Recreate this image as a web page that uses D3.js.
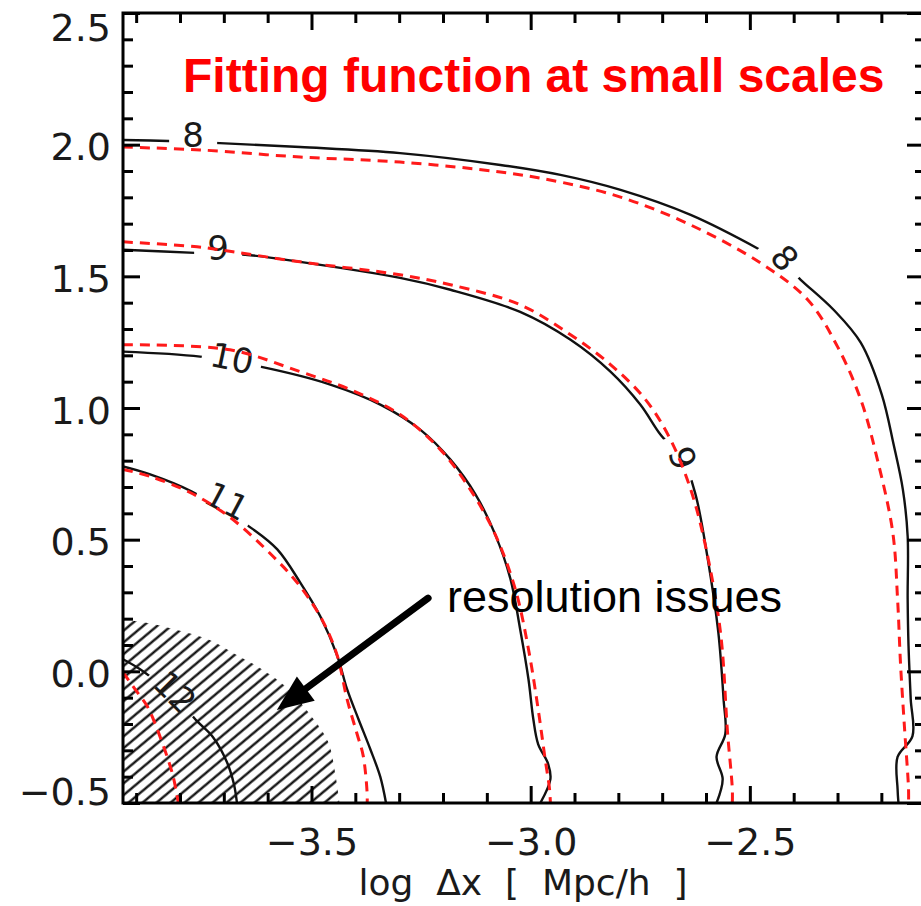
<!DOCTYPE html>
<html>
<head>
<meta charset="utf-8">
<script src="https://cdn.jsdelivr.net/npm/d3@7"></script>
<style>
  html, body { margin: 0; padding: 0; background: #fff; overflow: hidden; }
  svg { display: block; }
</style>
</head>
<body>
<svg id="chart" width="921" height="906"></svg>
<script>
// Contours of the measured field (solid) and of the fitting function (dashed),
// each as [log dx, log r] pairs.
const sim8 = [[-3.930,2.018],[-3.827,2.014],[-3.709,2.006],[-3.526,1.991],[-3.298,1.968],[-3.069,1.923],[-2.932,1.885],[-2.795,1.828],[-2.635,1.733],[-2.476,1.600],[-2.419,1.544],[-2.384,1.487],[-2.309,1.373],[-2.247,1.248],[-2.199,1.051],[-2.172,0.861],[-2.151,0.691],[-2.140,0.513],[-2.140,0.274],[-2.138,0.096],[-2.133,-0.105],[-2.129,-0.246],[-2.163,-0.325],[-2.163,-0.447],[-2.161,-0.500]];
const fit8 = [[-3.930,1.991],[-3.754,1.980],[-3.526,1.953],[-3.298,1.934],[-3.069,1.896],[-2.932,1.858],[-2.795,1.801],[-2.635,1.695],[-2.476,1.551],[-2.368,1.411],[-2.300,1.233],[-2.247,1.032],[-2.209,0.804],[-2.174,0.528],[-2.163,0.274],[-2.156,0.020],[-2.147,-0.219],[-2.138,-0.447],[-2.138,-0.500]];

const sim9 = [[-3.930,1.601],[-3.766,1.589],[-3.651,1.582],[-3.526,1.555],[-3.298,1.494],[-3.183,1.449],[-3.024,1.365],[-2.909,1.259],[-2.818,1.138],[-2.750,1.013],[-2.704,0.899],[-2.651,0.797],[-2.624,0.672],[-2.597,0.437],[-2.572,0.149],[-2.560,-0.105],[-2.556,-0.238],[-2.576,-0.325],[-2.562,-0.409],[-2.576,-0.500]];
const fit9 = [[-3.930,1.631],[-3.761,1.612],[-3.679,1.593],[-3.526,1.555],[-3.298,1.506],[-3.183,1.468],[-3.024,1.392],[-2.909,1.278],[-2.818,1.165],[-2.738,1.032],[-2.681,0.880],[-2.635,0.691],[-2.601,0.475],[-2.567,0.149],[-2.551,-0.230],[-2.540,-0.447],[-2.540,-0.500]];

const sim10 = [[-3.930,1.214],[-3.754,1.195],[-3.617,1.157],[-3.457,1.089],[-3.343,1.013],[-3.252,0.918],[-3.183,0.804],[-3.126,0.672],[-3.081,0.520],[-3.046,0.350],[-3.024,0.160],[-3.005,-0.030],[-2.994,-0.181],[-2.983,-0.276],[-2.960,-0.352],[-2.955,-0.409],[-2.978,-0.500]];
const fit10 = [[-3.930,1.240],[-3.686,1.221],[-3.526,1.138],[-3.412,1.070],[-3.298,0.975],[-3.206,0.842],[-3.138,0.691],[-3.081,0.520],[-3.035,0.312],[-3.005,0.084],[-2.983,-0.143],[-2.967,-0.333],[-2.957,-0.447],[-2.955,-0.500]];

const sim11 = [[-3.930,0.778],[-3.868,0.748],[-3.773,0.683],[-3.633,0.539],[-3.578,0.463],[-3.526,0.338],[-3.480,0.209],[-3.441,0.058],[-3.419,-0.067],[-3.393,-0.181],[-3.366,-0.295],[-3.343,-0.401],[-3.330,-0.500]];
const fit11 = [[-3.930,0.767],[-3.868,0.740],[-3.777,0.679],[-3.686,0.585],[-3.588,0.437],[-3.526,0.323],[-3.473,0.187],[-3.441,0.058],[-3.419,-0.105],[-3.396,-0.238],[-3.382,-0.321],[-3.373,-0.465],[-3.373,-0.500]];

const sim12 = [[-3.930,0.046],[-3.891,0.008],[-3.846,-0.049],[-3.800,-0.117],[-3.761,-0.189],[-3.725,-0.249],[-3.693,-0.344],[-3.677,-0.428],[-3.670,-0.500]];
const fit12 = [[-3.930,-0.003],[-3.903,-0.067],[-3.875,-0.132],[-3.846,-0.246],[-3.816,-0.397],[-3.804,-0.500]];

// Edge of the region where the grid is not resolved
const resolutionLimit = [[-3.930,0.198],[-3.862,0.180],[-3.800,0.154],[-3.731,0.118],[-3.679,0.070],[-3.617,0.012],[-3.556,-0.062],[-3.503,-0.165],[-3.462,-0.268],[-3.445,-0.397],[-3.436,-0.500]];

const levels = [8, 9, 10, 11, 12];
const simulated = [sim8, sim9, sim10, sim11, sim12];
const fitted = [fit8, fit9, fit10, fit11, fit12];

// Tick values
const xMajorTicks = [-3.5, -3.0, -2.5];
const yMajorTicks = [-0.5, 0.0, 0.5, 1.0, 1.5, 2.0, 2.5];

// Where the level numbers sit on the solid contours
const contourLabels = [
  { level: 8,  x: -3.770, y: 2.037, angle: 0 },
  { level: 9,  x: -3.713, y: 1.608, angle: 0 },
  { level: 10, x: -3.681, y: 1.190, angle: 12 },
  { level: 11, x: -3.693, y: 0.647, angle: 28 },
  { level: 12, x: -3.811, y: -0.078, angle: 45 },
  { level: 8,  x: -2.420, y: 1.570, angle: 50 },
  { level: 9,  x: -2.653, y: 0.810, angle: 70 }
];

const W = 921, H = 906;
const svg = d3.select("#chart");

const x = d3.scaleLinear().domain([-3.93, -2.105]).range([123, 923]);
const y = d3.scaleLinear().domain([-0.5, 2.5]).range([803, 13]);

const tickFont = "'DejaVu Sans', sans-serif";
const fmt = d3.format(".1f");

const defs = svg.append("defs");

defs.append("clipPath").attr("id", "plotArea")
  .append("rect")
  .attr("x", x.range()[0]).attr("y", y.range()[1])
  .attr("width", x.range()[1] - x.range()[0])
  .attr("height", y.range()[0] - y.range()[1]);

// Diagonal hatching for the unresolved region
const hatch = defs.append("pattern")
  .attr("id", "hatch")
  .attr("patternUnits", "userSpaceOnUse")
  .attr("width", 12).attr("height", 9)
  .attr("patternTransform", "rotate(-40)");
hatch.append("line")
  .attr("x1", -1).attr("x2", 13).attr("y1", 4.5).attr("y2", 4.5)
  .attr("stroke", "#000").attr("stroke-width", 2.2);

// Gaps cut out of the solid contours around the level numbers
const gapMask = defs.append("mask").attr("id", "labelGaps")
  .attr("maskUnits", "userSpaceOnUse")
  .attr("x", 0).attr("y", 0).attr("width", W).attr("height", H);
gapMask.append("rect").attr("width", W).attr("height", H).attr("fill", "#fff");
gapMask.selectAll("rect.gap")
  .data(contourLabels)
  .join("rect")
  .attr("class", "gap")
  .attr("x", d => String(d.level).length > 1 ? -30 : -24)
  .attr("y", -16)
  .attr("width", d => String(d.level).length > 1 ? 60 : 48)
  .attr("height", 32)
  .attr("fill", "#000")
  .attr("transform", d => `translate(${x(d.x)},${y(d.y)}) rotate(${d.angle})`);

const plot = svg.append("g").attr("clip-path", "url(#plotArea)");

// Hatched region
const edge = d3.line().x(d => x(d[0])).y(d => y(d[1])).curve(d3.curveCatmullRom.alpha(0.5));
const corner = [x.domain()[0], y.domain()[0]];
plot.append("path")
  .attr("d", edge(resolutionLimit) + `L${x(corner[0])},${y(corner[1])}Z`)
  .attr("fill", "url(#hatch)")
  .attr("stroke", "none");

const contourLine = d3.line()
  .x(d => x(d[0])).y(d => y(d[1]))
  .curve(d3.curveCatmullRom.alpha(0.5));

// Solid contours
plot.append("g").attr("mask", "url(#labelGaps)")
  .selectAll("path")
  .data(simulated)
  .join("path")
  .attr("d", contourLine)
  .attr("fill", "none")
  .attr("stroke", "#111")
  .attr("stroke-width", 2.4)
  .attr("stroke-linejoin", "round");

// Level numbers
plot.append("g").selectAll("text")
  .data(contourLabels)
  .join("text")
  .attr("transform", d => `translate(${x(d.x)},${y(d.y)}) rotate(${d.angle})`)
  .attr("text-anchor", "middle")
  .attr("dy", "0.36em")
  .attr("font-family", tickFont)
  .attr("font-size", 34)
  .attr("fill", "#1a1a1a")
  .text(d => d.level);

// Dashed fitting-function contours
plot.append("g")
  .selectAll("path")
  .data(fitted)
  .join("path")
  .attr("d", contourLine)
  .attr("fill", "none")
  .attr("stroke", "#ff1a1a")
  .attr("stroke-width", 3)
  .attr("stroke-dasharray", "10,7");

// Axes: ticks point inwards on all four sides
const xMinor = d3.range(-3.9, -2.15, 0.1).map(v => +v.toFixed(1)).filter(v => !xMajorTicks.includes(v));
const yMinor = d3.range(-0.4, 2.45, 0.1).map(v => +v.toFixed(1)).filter(v => !yMajorTicks.includes(v));

function styleAxis(g) {
  g.select(".domain").remove();
  g.selectAll(".tick line").attr("stroke", "#000").attr("stroke-width", 3);
  g.selectAll(".tick text")
    .attr("font-family", tickFont)
    .attr("font-size", 38)
    .attr("fill", "#1a1a1a");
}

const x0 = x.range()[0], x1 = x.range()[1], yb = y.range()[0], yt = y.range()[1];

// bottom
svg.append("g").attr("transform", `translate(0,${yb})`)
  .call(d3.axisBottom(x).tickValues(xMajorTicks).tickSize(-17).tickPadding(25).tickFormat(fmt))
  .call(styleAxis);
svg.append("g").attr("transform", `translate(0,${yb})`)
  .call(d3.axisBottom(x).tickValues(xMinor).tickSize(-10).tickFormat(""))
  .call(styleAxis);
// top
svg.append("g").attr("transform", `translate(0,${yt})`)
  .call(d3.axisTop(x).tickValues(xMajorTicks).tickSize(-17).tickFormat(""))
  .call(styleAxis);
svg.append("g").attr("transform", `translate(0,${yt})`)
  .call(d3.axisTop(x).tickValues(xMinor).tickSize(-10).tickFormat(""))
  .call(styleAxis);
// left
const yAxisG = svg.append("g").attr("transform", `translate(${x0},0)`)
  .call(d3.axisLeft(y).tickValues(yMajorTicks).tickSize(-17).tickPadding(12).tickFormat(fmt))
  .call(styleAxis);
yAxisG.selectAll(".tick text")
  .attr("dy", d => d === 2.5 ? 27 : d === -0.5 ? 1 : 15);
svg.append("g").attr("transform", `translate(${x0},0)`)
  .call(d3.axisLeft(y).tickValues(yMinor).tickSize(-10).tickFormat(""))
  .call(styleAxis);
// right
svg.append("g").attr("transform", `translate(${x1},0)`)
  .call(d3.axisRight(y).tickValues(yMajorTicks).tickSize(-16).tickFormat(""))
  .call(styleAxis);
svg.append("g").attr("transform", `translate(${x1},0)`)
  .call(d3.axisRight(y).tickValues(yMinor).tickSize(-8).tickFormat(""))
  .call(styleAxis);

// frame
svg.append("rect")
  .attr("x", x0).attr("y", yt)
  .attr("width", x1 - x0).attr("height", yb - yt)
  .attr("fill", "none").attr("stroke", "#000").attr("stroke-width", 3);

// x-axis title
svg.append("text")
  .attr("x", 523)
  .attr("y", 895)
  .attr("text-anchor", "middle")
  .attr("font-family", tickFont)
  .attr("font-size", 36)
  .attr("fill", "#1a1a1a")
  .attr("xml:space", "preserve")
  .text("log  Δx  [  Mpc/h  ]");

// Title inside the plot
svg.append("text")
  .attr("x", 183).attr("y", 92)
  .attr("font-family", "'Liberation Sans', Arial, sans-serif")
  .attr("font-weight", "bold")
  .attr("font-size", 48)
  .attr("fill", "#ff0000")
  .text("Fitting function at small scales");

// Annotation pointing into the hatched region
const arrowTail = [-3.234, 0.278];
const arrowTip = [-3.579, -0.147];
const tx = x(arrowTail[0]), ty = y(arrowTail[1]);
const hx = x(arrowTip[0]), hy = y(arrowTip[1]);
const len = Math.hypot(hx - tx, hy - ty);
const ux = (hx - tx) / len, uy = (hy - ty) / len;
const headLen = 36, headHalf = 15;
const bx = hx - ux * headLen, by = hy - uy * headLen;
svg.append("line")
  .attr("x1", tx).attr("y1", ty)
  .attr("x2", bx + ux * 4).attr("y2", by + uy * 4)
  .attr("stroke", "#000").attr("stroke-width", 7).attr("stroke-linecap", "round");
svg.append("path")
  .attr("d", `M${hx},${hy}L${bx - uy * headHalf},${by + ux * headHalf}L${bx + uy * headHalf},${by - ux * headHalf}Z`)
  .attr("fill", "#000");

svg.append("text")
  .attr("x", x(-3.191)).attr("y", y(0.225))
  .attr("font-family", "'Liberation Sans', Arial, sans-serif")
  .attr("font-size", 45)
  .attr("fill", "#000")
  .text("resolution issues");
</script>
</body>
</html>
